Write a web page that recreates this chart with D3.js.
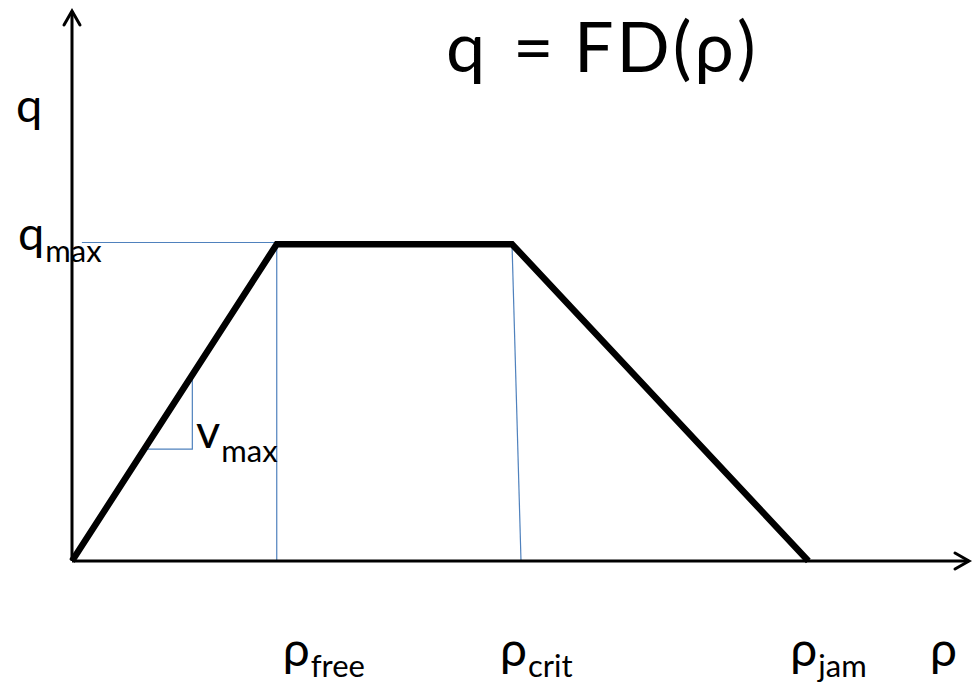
<!DOCTYPE html>
<html>
<head>
<meta charset="utf-8">
<script src="https://cdn.jsdelivr.net/npm/d3@7"></script>
<style>
  body { margin: 0; background: #fff; }
  text { font-family: Lato, "Open Sans", sans-serif; fill: #000; }
</style>
</head>
<body>
<div id="chart-area"></div>
<script>
/* Fundamental diagram: q = FD(rho), trapezoid shape */

// density breakpoints (arbitrary units, axis runs 0..100)
const rhoPoints = [0, 22.8, 49.0, 82.0]
// flow at those breakpoints
const qPoints = [0, 57.5, 57.5, 0]
// guide lines (thin blue)
const guideRho = [1.1, 22.8, 22.8, 49.0, 50.0]
const guideQ = [57.8, 57.8, 0, 57.5, 0]
// slope triangle for v_max
const triRho = [8.2, 13.4, 13.4]
const triQ = [20.3, 20.3, 33.9]
// density labels under the axis
const xLabelSubs = ['free', 'crit', 'jam']
const xLabelRho = [22.8, 49.0, 82.0]

const CANVAS_WIDTH = 973
const CANVAS_HEIGHT = 685

const $svg = d3.select('#chart-area')
  .append('svg')
  .attr('width', CANVAS_WIDTH)
  .attr('height', CANVAS_HEIGHT)

const scaleX = d3.scaleLinear().domain([0, 100]).range([72, 970])
const scaleY = d3.scaleLinear().domain([0, 100]).range([561, 10])

const line = d3.line()
  .x(d => scaleX(d[0]))
  .y(d => scaleY(d[1]))

/* Guide lines */
const blue = '#4f81bd'
const guides = [
  [[guideRho[0], guideQ[0]], [guideRho[1], guideQ[1]]],
  [[guideRho[1], guideQ[1]], [guideRho[2], guideQ[2]]],
  [[guideRho[3], guideQ[3]], [guideRho[4], guideQ[4]]]
]
$svg.selectAll('path.guide')
  .data(guides)
  .enter()
  .append('path')
  .attr('class', 'guide')
  .attr('d', line)
  .attr('fill', 'none')
  .attr('stroke', blue)
  .attr('stroke-width', 1.2)

// slope triangle
$svg.append('path')
  .attr('d', line(triRho.map((r, i) => [r, triQ[i]])))
  .attr('fill', 'none')
  .attr('stroke', blue)
  .attr('stroke-width', 1.2)

/* Axes with arrow heads */
const arrow = (x1, y1, x2, y2, dx1, dy1, dx2, dy2) => {
  $svg.append('line')
    .attr('x1', x1).attr('y1', y1).attr('x2', x2).attr('y2', y2)
    .attr('stroke', '#000').attr('stroke-width', 3)
  $svg.append('path')
    .attr('d', `M${x2 + dx1},${y2 + dy1} L${x2},${y2} L${x2 + dx2},${y2 + dy2}`)
    .attr('fill', 'none').attr('stroke', '#000').attr('stroke-width', 3)
    .attr('stroke-linecap', 'round').attr('stroke-linejoin', 'miter')
}
arrow(scaleX(0), scaleY(0), scaleX(0), scaleY(100) + 1, -8, 14, 8, 14)
arrow(scaleX(0), scaleY(0), scaleX(100) - 1, scaleY(0), -14, -8, -14, 8)

/* The diagram itself */
$svg.append('path')
  .attr('d', line(rhoPoints.map((r, i) => [r, qPoints[i]])))
  .attr('fill', 'none')
  .attr('stroke', '#000')
  .attr('stroke-width', 6.5)
  .attr('stroke-linejoin', 'miter')

/* Labels */
const label = (x, y, main, sub, size, subSize, subDy) => {
  const $t = $svg.append('text')
    .attr('x', x).attr('y', y)
    .attr('font-size', size)
    .text(main)
  if (sub) {
    $t.append('tspan')
      .attr('font-size', subSize)
      .attr('dy', subDy)
      .attr('dx', 1)
      .text(sub)
  }
}

label(16, 122, 'q', null, 47)
label(18, 250, 'q', 'max', 47, 31, 12)
label(196, 448, 'v', 'max', 47, 31, 14)

// labels sit a little left of the breakpoint, more so further right
const labelShift = [6, -12, -18]
xLabelSubs.forEach((sub, i) => {
  label(scaleX(xLabelRho[i]) + labelShift[i], 666, 'ρ', sub, 48, 31, 11)
})
label(930, 666, 'ρ', null, 48)

// title
const $title = $svg.append('text')
  .attr('y', 72)
  .attr('font-size', 70)
$title.append('tspan').attr('x', 446).text('q')
$title.append('tspan').attr('x', 513).text('=')
$title.append('tspan').attr('x', 574).attr('letter-spacing', 3).text('FD(ρ)')
</script>
</body>
</html>
